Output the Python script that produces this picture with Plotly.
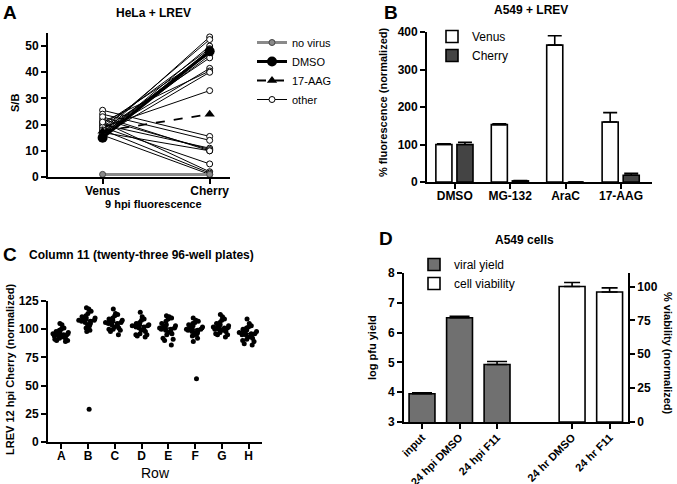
import statistics
import plotly.graph_objects as go

W, H = 677, 484
FONT = "Liberation Sans, Arial, Helvetica, sans-serif"

# ---------------- Panel A data ----------------
a_categories = ["Venus", "Cherry"]
a_other_venus = [17, 18, 16, 19, 16, 17, 20, 15.5, 18, 17, 21, 16, 19,
                 25.5, 24, 20, 22, 17, 23, 19, 21, 18, 16]
a_other_cherry = [53.5, 52.5, 50, 49, 48.5, 47.5, 47, 46.5, 45.5, 41.5, 40.5, 40, 33,
                  15.5, 14, 11, 10.5, 10, 10, 5, 2, 1.5, 1]
a_dmso = [15, 48]
a_aag = [17.5, 24]
a_novirus = [1, 1]

# ---------------- Panel B data ----------------
b_groups = ["DMSO", "MG-132", "AraC", "17-AAG"]
b_venus = [100, 153, 365, 160]
b_venus_err = [2, 2, 25, 25]
b_cherry = [100, 3, 0, 18]
b_cherry_err = [6, 1, 0, 5]

# ---------------- Panel C data ----------------
c_rows = ["A", "B", "C", "D", "E", "F", "G", "H"]
c_A = [105, 104, 101, 100, 99, 98, 97, 97, 96, 96, 95, 95, 95, 94, 94, 93, 93, 92, 92, 91, 90, 90, 89]
c_B = [119, 118, 116, 114, 112, 111, 110, 110, 109, 108, 108, 108, 107, 107, 106, 105, 104, 103, 102, 101, 99, 98, 29]
c_C = [118, 114, 113, 112, 110, 109, 108, 108, 107, 106, 106, 106, 105, 105, 104, 103, 102, 101, 100, 100, 99, 98, 95]
c_D = [115, 111, 109, 108, 106, 105, 105, 104, 104, 103, 103, 103, 102, 102, 101, 100, 99, 98, 96, 95, 95, 94, 93]
c_E = [112, 111, 110, 109, 107, 105, 104, 103, 102, 101, 101, 101, 100, 100, 99, 98, 97, 96, 95, 92, 91, 90, 86]
c_F = [110, 108, 107, 106, 105, 104, 103, 102, 101, 100, 100, 100, 99, 99, 98, 97, 97, 96, 95, 94, 92, 89, 56]
c_G = [113, 111, 109, 108, 106, 105, 104, 103, 102, 102, 101, 101, 101, 100, 100, 99, 99, 98, 97, 96, 95, 95, 93]
c_H = [109, 105, 103, 102, 101, 100, 99, 98, 98, 97, 96, 96, 96, 95, 95, 94, 93, 92, 91, 90, 89, 87, 86]
c_series = [c_A, c_B, c_C, c_D, c_E, c_F, c_G, c_H]

# ---------------- Panel D data ----------------
d_yield_labels = ["input", "24 hpi DMSO", "24 hpi F11"]
d_yield = [3.95, 6.5, 4.93]
d_yield_err = [0.03, 0.05, 0.1]
d_viab_labels = ["24 hr DMSO", "24 hr F11"]
d_viab = [100, 96]
d_viab_err = [3, 3]

# ---------------- helpers ----------------
def px_x(x):
    return x / W

def px_y(y):
    return 1 - y / H

def fnt(size, bold=True, color="black"):
    d = dict(family=FONT, size=size, color=color)
    if bold:
        d["weight"] = "bold"
    return d

AX = dict(showline=True, linecolor="black", linewidth=1.8, ticks="outside",
          ticklen=5, tickwidth=1.8, tickcolor="black", showgrid=False,
          zeroline=False, tickfont=fnt(12), automargin=False)
AXX = dict(AX, ticklabelstandoff=-3)

fig = go.Figure()

# ---------------- Panel A traces ----------------
ax_pos = list(range(len(a_categories)))
for i, (v, c) in enumerate(zip(a_other_venus, a_other_cherry)):
    fig.add_trace(go.Scatter(
        x=ax_pos, y=[v, c], mode="lines+markers", xaxis="x", yaxis="y",
        line=dict(color="black", width=1),
        marker=dict(symbol="circle", size=6, color="white", line=dict(color="black", width=1)),
        name="other", legendgroup="other", showlegend=(i == 0), legendrank=4,
        cliponaxis=False))
fig.add_trace(go.Scatter(
    x=ax_pos, y=a_aag, mode="lines+markers", xaxis="x", yaxis="y",
    line=dict(color="black", width=1.8, dash="dash"),
    marker=dict(symbol="triangle-up", size=9, color="black"),
    name="17-AAG", legendrank=3, cliponaxis=False))
fig.add_trace(go.Scatter(
    x=ax_pos, y=a_dmso, mode="lines+markers", xaxis="x", yaxis="y",
    line=dict(color="black", width=3),
    marker=dict(symbol="circle", size=10, color="black"),
    name="DMSO", legendrank=2, cliponaxis=False))
fig.add_trace(go.Scatter(
    x=ax_pos, y=a_novirus, mode="lines+markers", xaxis="x", yaxis="y",
    line=dict(color="#8a8a8a", width=3),
    marker=dict(symbol="circle", size=6, color="#8a8a8a", line=dict(color="#444", width=1)),
    name="no virus", legendrank=1, cliponaxis=False))

# ---------------- Panel B traces ----------------
bx = list(range(len(b_groups)))
fig.add_trace(go.Bar(
    x=bx, y=b_venus, xaxis="x2", yaxis="y2", name="Venus", legend="legend2",
    width=0.29, offset=-0.34,
    marker=dict(color="white", line=dict(color="black", width=1.6)),
    error_y=dict(type="data", array=b_venus_err, arrayminus=[0] * len(b_venus),
                 symmetric=False, color="black", thickness=1.6, width=7)))
fig.add_trace(go.Bar(
    x=bx, y=b_cherry, xaxis="x2", yaxis="y2", name="Cherry", legend="legend2",
    width=0.29, offset=0.04,
    marker=dict(color="#444444", line=dict(color="black", width=1.6)),
    error_y=dict(type="data", array=b_cherry_err, arrayminus=[0] * len(b_cherry),
                 symmetric=False, color="black", thickness=1.6, width=7)))

# ---------------- Panel C traces ----------------
med_x, med_y = [], []
for i, vals in enumerate(c_series):
    fig.add_trace(go.Box(
        y=vals, x0=i, xaxis="x3", yaxis="y3", boxpoints="all", jitter=1,
        pointpos=0, width=0.72, fillcolor="rgba(0,0,0,0)",
        line=dict(color="rgba(0,0,0,0)", width=0),
        marker=dict(color="black", size=5), showlegend=False, hoverinfo="y"))
    m = statistics.median(vals)
    med_x += [i - 0.33, i + 0.33, None]
    med_y += [m, m, None]
fig.add_trace(go.Scatter(x=med_x, y=med_y, mode="lines", xaxis="x3", yaxis="y3",
                         line=dict(color="black", width=1.5), showlegend=False,
                         hoverinfo="skip"))

# ---------------- Panel D traces ----------------
D_SLOTS_YIELD = [0, 1, 2]
D_SLOTS_VIAB = [4, 5]
fig.add_trace(go.Bar(
    x=D_SLOTS_YIELD, y=d_yield, xaxis="x4", yaxis="y4", name="viral yield",
    legend="legend3", width=0.69, offset=-0.345,
    marker=dict(color="#707070", line=dict(color="black", width=1.6)),
    error_y=dict(type="data", array=d_yield_err, arrayminus=[0] * len(d_yield),
                 symmetric=False, color="black", thickness=1.6, width=10)))
fig.add_trace(go.Bar(
    x=D_SLOTS_VIAB, y=d_viab, xaxis="x4", yaxis="y5", name="cell viability",
    legend="legend3", width=0.69, offset=-0.345,
    marker=dict(color="white", line=dict(color="black", width=1.6)),
    error_y=dict(type="data", array=d_viab_err, arrayminus=[0] * len(d_viab),
                 symmetric=False, color="black", thickness=1.6, width=8)))

# ---------------- layout ----------------
layout = dict(
    width=W, height=H, margin=dict(l=0, r=0, t=0, b=0, autoexpand=False),
    paper_bgcolor="white", plot_bgcolor="white", barmode="overlay",
    font=dict(family=FONT, color="black"),
    # Panel A
    xaxis=dict(AXX, domain=[px_x(48), px_x(230)], range=[-0.51, 1.19],
               tickvals=ax_pos, ticktext=a_categories, anchor="y"),
    yaxis=dict(AX, domain=[px_y(177), px_y(33)], range=[0, 55],
               tickvals=[0, 10, 20, 30, 40, 50], anchor="x"),
    # Panel B
    xaxis2=dict(AXX, domain=[px_x(427), px_x(652)], range=[-0.5, 3.56],
                tickvals=bx, ticktext=b_groups, anchor="y2"),
    yaxis2=dict(AX, domain=[px_y(182), px_y(32)], range=[0, 400],
                tickvals=[0, 100, 200, 300, 400], anchor="x2"),
    # Panel C
    xaxis3=dict(AXX, domain=[px_x(48), px_x(262)], range=[-0.5, 7.5],
                tickvals=list(range(len(c_rows))), ticktext=c_rows, anchor="y3"),
    yaxis3=dict(AX, domain=[px_y(442), px_y(301)], range=[0, 125],
                tickvals=[0, 25, 50, 75, 100, 125], anchor="x3"),
    # Panel D
    xaxis4=dict(AX, domain=[px_x(404), px_x(628)], range=[-0.48, 5.49],
                tickvals=D_SLOTS_YIELD + D_SLOTS_VIAB, tickfont=fnt(11),
                ticklabelstandoff=-2,
                ticktext=d_yield_labels + d_viab_labels, tickangle=-45, anchor="y4"),
    yaxis4=dict(AX, domain=[px_y(422), px_y(273)], range=[3, 8],
                tickvals=[3, 4, 5, 6, 7, 8], anchor="x4"),
    yaxis5=dict(AX, domain=[px_y(422), px_y(273)], range=[0, 110],
                tickvals=[0, 25, 50, 75, 100], anchor="x4", overlaying="y4",
                side="right"),
    legend=dict(x=px_x(252), y=px_y(28), xanchor="left", yanchor="top",
                font=fnt(11, bold=False), bgcolor="rgba(0,0,0,0)",
                traceorder="normal", itemwidth=30),
    legend2=dict(x=px_x(432), y=px_y(22), xanchor="left", yanchor="top",
                 font=fnt(12, bold=False), bgcolor="rgba(0,0,0,0)", itemwidth=30),
    legend3=dict(x=px_x(414), y=px_y(250), xanchor="left", yanchor="top",
                 font=fnt(12, bold=False), bgcolor="rgba(0,0,0,0)", itemwidth=30),
)
fig.update_layout(**layout)

def ann(text, x, y, size, bold=True, angle=0, xanchor="center"):
    return dict(text=text, x=px_x(x), y=px_y(y), xref="paper", yref="paper",
                showarrow=False, font=fnt(size, bold), textangle=angle,
                xanchor=xanchor, yanchor="middle")

annotations = [
    ann("A", 1, 13, 19, xanchor="left"),
    ann("B", 382, 12, 19, xanchor="left"),
    ann("C", 1, 254, 19, xanchor="left"),
    ann("D", 377, 238, 19, xanchor="left"),
    ann("HeLa + LREV", 153, 13, 12),
    ann("A549 + LREV", 531, 10, 12),
    ann("Column 11 (twenty-three 96-well plates)", 27, 255, 12, xanchor="left"),
    ann("A549 cells", 524, 240, 12),
    ann("S/B", 15, 103, 11, angle=-90),
    ann("9 hpi fluorescence", 153, 204, 11),
    ann("% fluorescence (normalized)", 383, 103, 11, angle=-90),
    ann("LREV 12 hpi Cherry (normalized)", 10, 370, 11, angle=-90),
    ann("Row", 155, 473, 14, bold=False),
    ann("log pfu yield", 372, 348, 11, angle=-90),
    ann("% viability (normalized)", 668, 353, 11, angle=90),
]
fig.update_layout(annotations=annotations)

fig.write_html("out.html", config={"displayModeBar": False},
               post_script="document.body.style.margin='0';document.body.style.padding='0';")
